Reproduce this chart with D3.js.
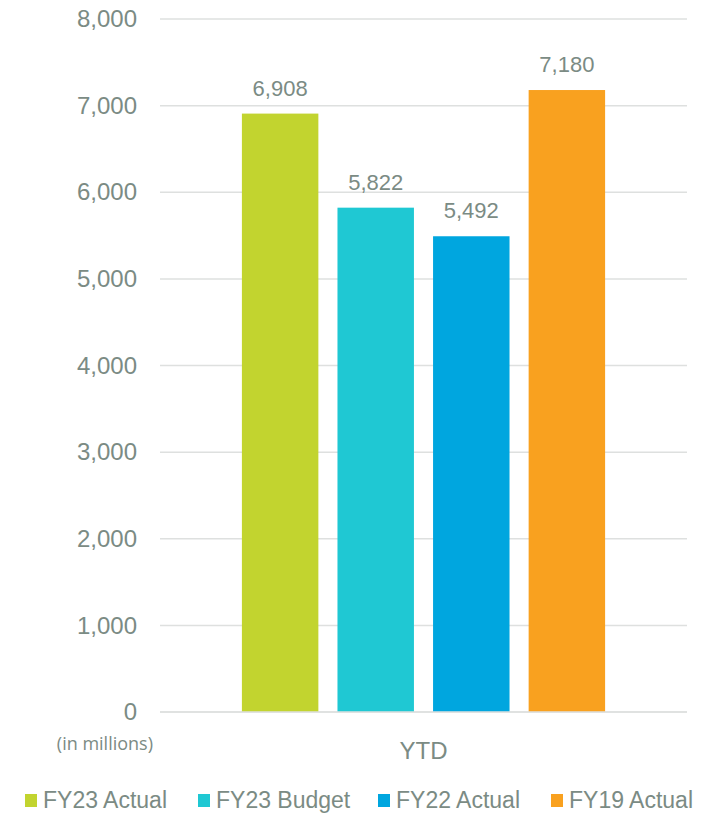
<!DOCTYPE html>
<html>
<head>
<meta charset="utf-8">
<script src="https://cdn.jsdelivr.net/npm/d3@7"></script>
<style>
  body { margin: 0; background: #fff; }
  svg text { font-family: "Liberation Sans", Arial, sans-serif; fill: #7b8b84; }
</style>
</head>
<body>
<svg id="chart" width="717" height="818"></svg>
<script>
// data
const categories = ['YTD'];
const seriesNames = ['FY23 Actual', 'FY23 Budget', 'FY22 Actual', 'FY19 Actual'];
const seriesValues = [6908, 5822, 5492, 7180];
const seriesColors = ['#c2d42f', '#1fc8d3', '#00a6df', '#f9a11f'];
const yTicks = [0, 1000, 2000, 3000, 4000, 5000, 6000, 7000, 8000];

const svg = d3.select('#chart');
const plotLeft = 160, plotRight = 687, plotTop = 19, plotBottom = 712;

const y = d3.scaleLinear().domain([0, 8000]).range([plotBottom, plotTop]);
const x0 = d3.scaleBand().domain(categories).range([plotLeft, plotRight]).padding(0.184);
const x1 = d3.scaleBand().domain(seriesNames).range([0, x0.bandwidth()]).paddingInner(0.2);
const fmt = d3.format(',');

// gridlines
svg.append('g')
  .selectAll('line')
  .data(yTicks)
  .enter()
  .append('line')
  .attr('x1', plotLeft)
  .attr('x2', plotRight)
  .attr('y1', d => y(d))
  .attr('y2', d => y(d))
  .attr('stroke', '#dee0df')
  .attr('stroke-width', 1.5);

// y axis labels
const yAxis = svg.append('g')
  .attr('transform', `translate(${plotLeft - 23},0)`)
  .call(d3.axisLeft(y).tickValues(yTicks).tickFormat(fmt).tickSize(0).tickPadding(0));
yAxis.select('.domain').remove();
yAxis.selectAll('text')
  .style('font-size', '24px')
  .style('font-family', '"Liberation Sans", Arial, sans-serif')
  .attr('fill', '#7b8b84');

// bars
const grp = svg.append('g').attr('transform', `translate(${x0('YTD')},0)`);
grp.selectAll('rect')
  .data(seriesValues)
  .enter()
  .append('rect')
  .attr('x', (d, i) => x1(seriesNames[i]))
  .attr('y', d => y(d))
  .attr('width', x1.bandwidth())
  .attr('height', d => y(0) - y(d))
  .attr('fill', (d, i) => seriesColors[i]);

grp.selectAll('text.val')
  .data(seriesValues)
  .enter()
  .append('text')
  .attr('class', 'val')
  .attr('x', (d, i) => x1(seriesNames[i]) + x1.bandwidth() / 2)
  .attr('y', d => y(d) - 18)
  .attr('text-anchor', 'middle')
  .style('font-size', '22px')
  .text(d => fmt(d));

// zero line on top
svg.append('line')
  .attr('x1', plotLeft).attr('x2', plotRight)
  .attr('y1', y(0)).attr('y2', y(0))
  .attr('stroke', '#dee0df').attr('stroke-width', 1.5);

// category label and units
svg.append('text')
  .attr('x', x0('YTD') + x0.bandwidth() / 2)
  .attr('y', 759)
  .attr('text-anchor', 'middle')
  .style('font-size', '24px')
  .text('YTD');

svg.append('text')
  .attr('x', 153)
  .attr('y', 750)
  .attr('text-anchor', 'end')
  .style('font-family', '"Open Sans", sans-serif')
  .style('font-size', '18px')
  .text('(in millions)');

// legend
const legendX = [25, 198, 378, 551];
const legend = svg.append('g');
const items = legend.selectAll('g')
  .data(seriesNames)
  .enter()
  .append('g')
  .attr('transform', (d, i) => `translate(${legendX[i]},0)`);
items.append('rect')
  .attr('x', 0).attr('y', 794)
  .attr('width', 12).attr('height', 13)
  .attr('fill', (d, i) => seriesColors[i]);
items.append('text')
  .attr('x', 18)
  .attr('y', 808)
  .style('font-size', '23px')
  .text(d => d);
</script>
</body>
</html>
